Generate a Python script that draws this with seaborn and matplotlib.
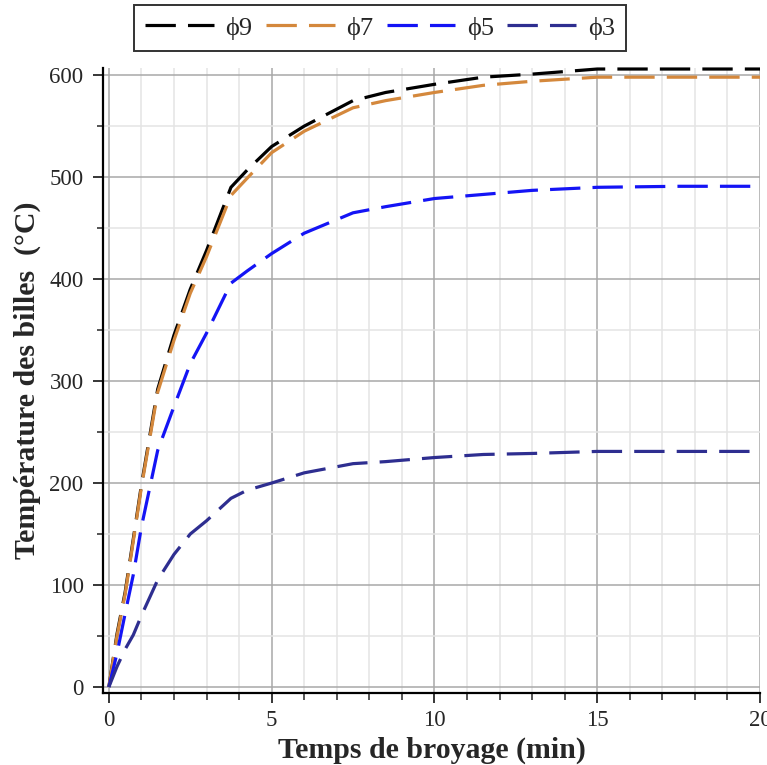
import numpy as np
import pandas as pd
import matplotlib
matplotlib.use("Agg")
import matplotlib.pyplot as plt
from matplotlib.ticker import MultipleLocator
import seaborn as sns

# ---- data ----
time_min = [0, 0.25, 0.5, 0.75, 1, 1.5, 2, 2.5, 3, 3.75, 4.25, 5, 6, 7.5, 8.5, 10, 11.5, 13, 15, 17.5, 20]
phi9 = [0, 52, 93, 145, 198, 292, 345, 390, 428, 490, 507, 530, 550, 575, 583, 591, 598, 601, 606, 606, 606]
phi7 = [0, 50, 91, 143, 196, 289, 340, 386, 422, 482, 499, 524, 545, 568, 575, 583, 590, 594, 598, 598, 598]
phi5 = [0, 33, 72, 110, 157, 232, 275, 317, 347, 396, 408, 425, 445, 465, 471, 479, 483, 487, 490, 491, 491]
phi3 = [0, 20, 37, 51, 70, 105, 130, 150, 163, 185, 193, 200, 210, 219, 221, 225, 228, 229, 231, 231, 231]
labels = ["ϕ9", "ϕ7", "ϕ5", "ϕ3"]
colors = ["#000000", "#D4883C", "#1414F5", "#2E2E90"]

x_ticks = [0, 5, 10, 15, 20]
y_ticks = [0, 100, 200, 300, 400, 500, 600]

series = [phi9, phi7, phi5, phi3]
df = pd.concat([pd.DataFrame({"t": time_min, "T": s, "d": lab}) for s, lab in zip(series, labels)],
               ignore_index=True)

sns.set_style("white")
plt.rcParams['font.family'] = ['Liberation Serif', 'DejaVu Serif']

fig = plt.figure(figsize=(7.67, 7.65), dpi=100)
ax = fig.add_axes([103/767, 1 - 693/765, (760-103)/767, (693-68)/765])

sns.lineplot(data=df, x="t", y="T", hue="d", hue_order=labels,
             palette=dict(zip(labels, colors)), ax=ax, legend=False,
             sort=False, linewidth=2.3, estimator=None)
for ln in ax.get_lines():
    ln.set_dashes((9.5, 3.8))
    ln.set_clip_on(False)
    ln.set_zorder(5)

ax.set_xlim(-0.18, 20)
ax.set_ylim(-5.9, 607)
ax.set_xticks(x_ticks)
ax.set_yticks(y_ticks)
ax.xaxis.set_minor_locator(MultipleLocator(1))
ax.yaxis.set_minor_locator(MultipleLocator(50))
ax.grid(which="major", color="#a8a8a8", linewidth=1.1, zorder=0)
ax.grid(which="minor", color="#e4e4e4", linewidth=1.1, zorder=0)
ax.set_axisbelow(True)

for side in ["top", "right"]:
    ax.spines[side].set_visible(False)
for side in ["left", "bottom"]:
    ax.spines[side].set_linewidth(1.6)
    ax.spines[side].set_color("black")

ax.tick_params(axis="both", which="major", direction="out", length=7, width=1.1,
               labelsize=16.5, color="black", pad=5, bottom=True, left=True)
ax.tick_params(axis="y", which="major", pad=7)
ax.tick_params(axis="x", which="minor", direction="out", length=5, width=1.1, bottom=True)
ax.tick_params(axis="y", which="minor", direction="out", length=4.5, width=1.1, left=True)

ax.set_xlabel("Temps de broyage (min)", fontsize=21.5, fontweight="bold", labelpad=4)
ax.set_ylabel("Température des billes  (°C)", fontsize=21.5, fontweight="bold", labelpad=6)

handles = ax.get_lines()[:4]
leg = fig.legend(handles, labels, loc="upper center", bbox_to_anchor=(380/767, 1 - 5/765),
                 ncol=4, fontsize=19, frameon=True, fancybox=False, handlelength=2.6,
                 handletextpad=0.45, columnspacing=0.5, borderpad=0.42, borderaxespad=0)
leg.get_frame().set_edgecolor("black")
leg.get_frame().set_linewidth(1.4)

fig.savefig("out.png", dpi=100)
